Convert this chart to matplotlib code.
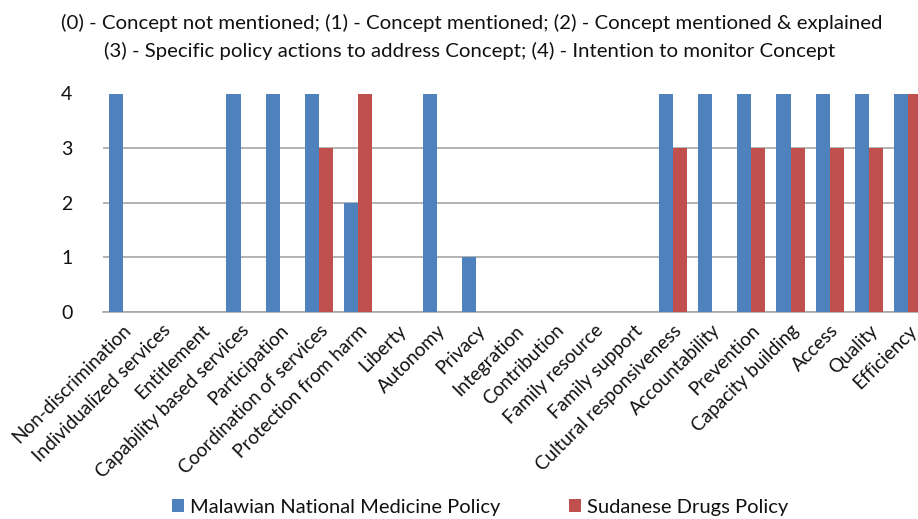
import matplotlib
matplotlib.use("Agg")
import matplotlib.pyplot as plt
import numpy as np

categories = [
    "Non-discrimination", "Individualized services", "Entitlement",
    "Capability based services", "Participation", "Coordination of services",
    "Protection from harm", "Liberty", "Autonomy", "Privacy", "Integration",
    "Contribution", "Family resource", "Family support",
    "Cultural responsiveness", "Accountability", "Prevention",
    "Capacity building", "Access", "Quality", "Efficiency",
]
malawi = [4, 0, 0, 4, 4, 4, 2, 0, 4, 1, 0, 0, 0, 0, 4, 4, 4, 4, 4, 4, 4]
sudan = [0, 0, 0, 0, 0, 3, 4, 0, 0, 0, 0, 0, 0, 0, 3, 0, 3, 3, 3, 3, 4]
series_names = ["Malawian National Medicine Policy", "Sudanese Drugs Policy"]
y_ticks = [0, 1, 2, 3, 4]
title_lines = [
    "(0) - Concept not mentioned; (1) - Concept mentioned; (2) - Concept mentioned & explained",
    "(3) - Specific policy actions to address Concept; (4) - Intention to monitor Concept",
]

blue = "#4F81BD"
red = "#C0504D"
grid_col = "#A6A6A6"
txt_col = "#111111"
font = "Lato"

W, H = 918, 519
fig = plt.figure(figsize=(W / 100, H / 100), dpi=100)

# plot area runs past the right edge of the figure
left_px, right_px = 103, 928
top_px, bottom_px = 93.5, 312
ax = fig.add_axes([left_px / W, 1 - bottom_px / H,
                   (right_px - left_px) / W, (bottom_px - top_px) / H])

x = np.arange(len(categories))
bw = 1 / 2.8
ax.bar(x - bw / 2, malawi, bw, color=blue, label=series_names[0], zorder=3)
ax.bar(x + bw / 2, sudan, bw, color=red, label=series_names[1], zorder=3)

ax.set_xlim(-0.5, len(categories) - 0.5)
ax.set_ylim(0, 4)
ax.set_yticks(y_ticks)
ax.set_yticklabels([str(v) for v in y_ticks], fontsize=14, family=font, color=txt_col)
ax.yaxis.grid(True, color=grid_col, linewidth=1.2, zorder=0)
ax.set_axisbelow(True)
for s in ["top", "right", "left"]:
    ax.spines[s].set_visible(False)
ax.spines["bottom"].set_color(grid_col)
ax.spines["bottom"].set_linewidth(1.2)
ax.tick_params(axis="both", length=0)
ax.tick_params(axis="y", pad=22)

ax.set_xticks(x)
ax.set_xticklabels(categories, rotation=45, ha="right", va="top",
                   rotation_mode="anchor", fontsize=13.7, family=font, color=txt_col)
ax.tick_params(axis="x", pad=7)

fig.text(472 / W, 1 - 23 / H, title_lines[0], ha="center", va="center",
         fontsize=14.7, family=font, color=txt_col)
fig.text(470 / W, 1 - 51 / H, title_lines[1], ha="center", va="center",
         fontsize=14.7, family=font, color=txt_col)

fig.legend(loc="center", bbox_to_anchor=(480 / W, 1 - 507 / H), ncol=2,
           frameon=False, prop={"family": font, "size": 14.5},
           handlelength=0.6, handleheight=0.6, handletextpad=0.3,
           columnspacing=3.4, labelcolor=txt_col)

fig.savefig("out.png", dpi=100)
